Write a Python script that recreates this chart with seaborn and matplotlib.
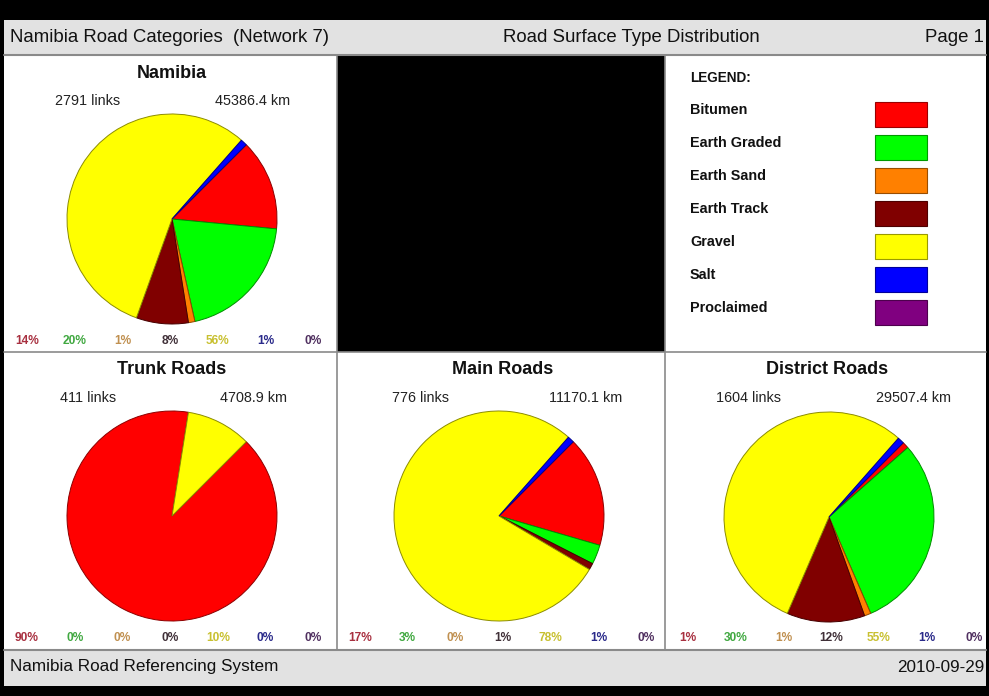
import matplotlib
matplotlib.use("Agg")
import matplotlib.pyplot as plt
import matplotlib.colors as mcolors
from matplotlib.patches import Rectangle
import seaborn as sns

# ---------------- data ----------------
surface_types = ["Bitumen", "Earth Graded", "Earth Sand", "Earth Track", "Gravel", "Salt", "Proclaimed"]
type_colors = ["#ff0000", "#00ff00", "#ff8000", "#800000", "#ffff00", "#0000ff", "#800080"]
label_colors = ["#a83040", "#40a840", "#c09050", "#403038", "#c8c030", "#2a2a8a", "#503060"]

panel_titles = ["Namibia", "Trunk Roads", "Main Roads", "District Roads"]
panel_links = [2791, 411, 776, 1604]
panel_km = [45386.4, 4708.9, 11170.1, 29507.4]

namibia_pct = [14, 20, 1, 8, 56, 1, 0]
trunk_pct = [90, 0, 0, 0, 10, 0, 0]
main_pct = [17, 3, 0, 1, 78, 1, 0]
district_pct = [1, 30, 1, 12, 55, 1, 0]
panel_values = [namibia_pct, trunk_pct, main_pct, district_pct]

header_left = "Namibia Road Categories  (Network 7)"
header_mid = "Road Surface Type Distribution"
header_right = "Page 1"
footer_left = "Namibia Road Referencing System"
footer_right = "2010-09-29"

# ---------------- style ----------------
sns.set_style("white")
plt.rcParams["font.family"] = ["Liberation Sans", "DejaVu Sans"]
palette = sns.color_palette(type_colors)

W, H = 989, 696
fig = plt.figure(figsize=(W / 100, H / 100), dpi=100, facecolor="black")
ax = fig.add_axes([0, 0, 1, 1])
ax.set_xlim(0, W)
ax.set_ylim(0, H)
ax.axis("off")


def Y(y):
    return H - y


def rect(x0, y0, x1, y1, fc, ec="none", lw=0, z=0):
    ax.add_patch(Rectangle((x0, Y(y1)), x1 - x0, y1 - y0, facecolor=fc,
                           edgecolor=ec, linewidth=lw, zorder=z))


# background areas
rect(0, 0, W, H, "black", z=0)
rect(4, 20, 986, 54, "#e2e2e2", z=1)
rect(4, 54, 986, 650, "white", z=1)
rect(4, 650, 986, 686, "#e2e2e2", z=1)
# black panel (top middle)
rect(337, 55, 665, 352, "black", z=2)

# grid lines
lc = "#8a8a8a"
ax.plot([4, 986], [Y(54.5), Y(54.5)], color=lc, lw=1.5, zorder=3)
ax.plot([4, 986], [Y(650), Y(650)], color=lc, lw=1.5, zorder=3)
ax.plot([4, 986], [Y(352), Y(352)], color=lc, lw=1.2, zorder=3)
ax.plot([336.5, 336.5], [Y(55), Y(650)], color=lc, lw=1.2, zorder=3)
ax.plot([665, 665], [Y(55), Y(650)], color=lc, lw=1.2, zorder=3)

# header / footer text
hf = dict(fontsize=13.4, color="#111111", va="center", zorder=5)
ax.text(10, Y(37), header_left, ha="left", **hf)
ax.text(631, Y(37), header_mid, ha="center", **hf)
ax.text(984, Y(37), header_right, ha="right", **hf)
ff = dict(fontsize=12.3, color="#111111", va="center", zorder=5)
ax.text(10, Y(667), footer_left, ha="left", **ff)
ax.text(984, Y(667), footer_right, ha="right", **ff)

# legend
ax.text(690, Y(78), "LEGEND:", fontsize=9.8, fontweight="bold", color="#111111",
        ha="left", va="center", zorder=5)
for i, (name, col) in enumerate(zip(surface_types, palette)):
    yl = 110 + 33 * i
    ax.text(690, Y(yl), name, fontsize=10.4, fontweight="bold", color="#111111",
            ha="left", va="center", zorder=5)
    dark = tuple(c * 0.6 for c in mcolors.to_rgb(col))
    rect(875, yl - 8, 927, yl + 17, col, ec=dark, lw=0.8, z=5)

# panels: (left, top, right) and pie centre
panels = [
    (4, 55, 336, 172, 219),
    (4, 352, 336, 172, 516),
    (337, 352, 665, 499, 516),
    (665, 352, 986, 829, 517),
]
radius = 105

for (x0, y0, x1, cx, cy), title, links, km, vals in zip(
        panels, panel_titles, panel_links, panel_km, panel_values):
    xm = (x0 + x1) / 2
    ax.text(xm + 2, Y(y0 + 18), title, fontsize=13, fontweight="bold",
            color="#111111", ha="center", va="center", zorder=5)
    ax.text(x0 + 84, Y(y0 + 46), f"{links} links", fontsize=10.4,
            color="#222222", ha="center", va="center", zorder=5)
    ax.text(x0 + 249, Y(y0 + 46), f"{km:.1f} km", fontsize=10.4,
            color="#222222", ha="center", va="center", zorder=5)

    nz = [(v, c) for v, c in zip(vals, palette) if v > 0]
    wedges, _ = ax.pie([v for v, _ in nz], colors=[c for _, c in nz],
                       startangle=45, counterclock=False,
                       center=(cx, Y(cy)), radius=radius, frame=True)
    for w in wedges:
        fc = w.get_facecolor()[:3]
        w.set_edgecolor(tuple(c * 0.55 for c in fc))
        w.set_linewidth(0.7)
        w.set_zorder(4)

    # percentage row
    for i, (v, lcol) in enumerate(zip(vals, label_colors)):
        xp = x0 + 23 + 47.7 * i
        ax.text(xp, Y(y0 + 286), f"{v}%", fontsize=8.6, fontweight="bold",
                color=lcol, ha="center", va="center", zorder=5)

ax.set_xlim(0, W)
ax.set_ylim(0, H)
ax.set_aspect("auto")
ax.axis("off")

fig.savefig("out.png", dpi=100, facecolor="black")
